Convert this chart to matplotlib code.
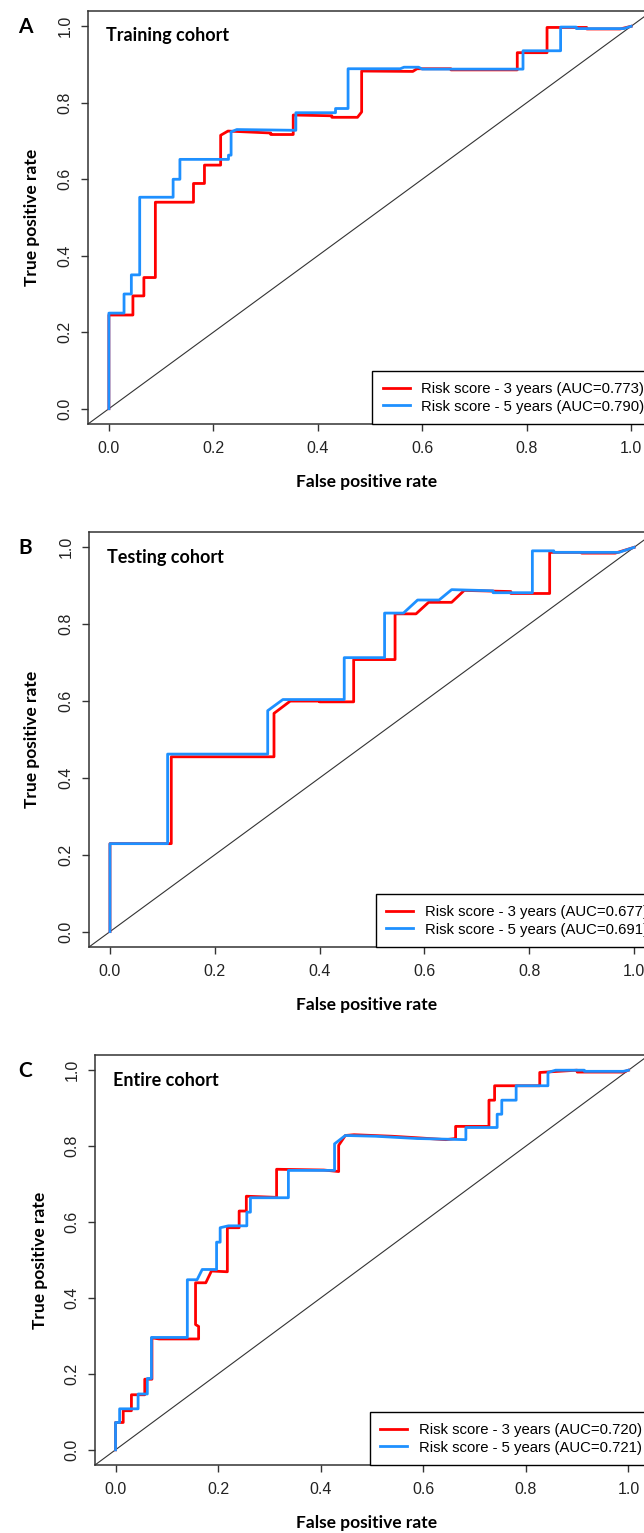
import numpy as np
import matplotlib
matplotlib.use('Agg')
import matplotlib.pyplot as plt

W, H = 644, 1533

# ROC vertices (false positive rate, true positive rate)
fpr_a3 = [0, 0, 0.046, 0.046, 0.067, 0.067, 0.089, 0.089, 0.162, 0.162, 0.183, 0.183, 0.214, 0.214,
          0.228, 0.31, 0.31, 0.353, 0.353, 0.427, 0.427, 0.476, 0.484, 0.484, 0.582, 0.59, 0.655,
          0.655, 0.782, 0.782, 0.839, 0.839, 0.915, 0.915, 0.979, 1.0]
tpr_a3 = [0, 0.245, 0.245, 0.295, 0.295, 0.343, 0.343, 0.540, 0.540, 0.589, 0.589, 0.637, 0.637, 0.715,
          0.726, 0.721, 0.717, 0.717, 0.768, 0.766, 0.762, 0.762, 0.776, 0.883, 0.882, 0.889, 0.889,
          0.886, 0.886, 0.931, 0.931, 0.997, 0.997, 0.993, 0.993, 1.0]
fpr_a5 = [0, 0, 0.029, 0.029, 0.043, 0.043, 0.059, 0.059, 0.123, 0.123, 0.136, 0.136, 0.229, 0.229,
          0.234, 0.234, 0.245, 0.358, 0.358, 0.434, 0.434, 0.458, 0.458, 0.558, 0.565, 0.593, 0.600,
          0.793, 0.793, 0.865, 0.865, 0.895, 0.895, 0.986, 1.0]
tpr_a5 = [0, 0.25, 0.25, 0.30, 0.30, 0.35, 0.35, 0.553, 0.553, 0.60, 0.60, 0.652, 0.652, 0.663,
          0.663, 0.724, 0.73, 0.728, 0.774, 0.774, 0.785, 0.785, 0.889, 0.889, 0.893, 0.893, 0.888,
          0.888, 0.936, 0.936, 0.998, 0.998, 0.994, 0.994, 1.0]

fpr_b3 = [0, 0, 0.117, 0.117, 0.313, 0.313, 0.344, 0.40, 0.40, 0.465, 0.465, 0.544, 0.544, 0.584,
          0.608, 0.652, 0.676, 0.765, 0.765, 0.839, 0.839, 0.90, 0.90, 0.964, 1.0]
tpr_b3 = [0, 0.229, 0.229, 0.455, 0.455, 0.568, 0.60, 0.60, 0.598, 0.598, 0.708, 0.708, 0.827, 0.827,
          0.857, 0.857, 0.888, 0.885, 0.88, 0.88, 0.987, 0.987, 0.985, 0.985, 1.0]
fpr_b5 = [0, 0, 0.110, 0.110, 0.301, 0.301, 0.33, 0.447, 0.447, 0.524, 0.524, 0.56, 0.587, 0.628,
          0.652, 0.731, 0.731, 0.806, 0.806, 0.847, 0.847, 0.971, 1.0]
tpr_b5 = [0, 0.229, 0.229, 0.462, 0.462, 0.575, 0.604, 0.604, 0.713, 0.713, 0.829, 0.829, 0.863, 0.863,
          0.89, 0.887, 0.882, 0.882, 0.991, 0.991, 0.987, 0.987, 1.0]

fpr_c3 = [0, 0, 0.015, 0.015, 0.031, 0.031, 0.057, 0.057, 0.071, 0.071, 0.085, 0.162, 0.162, 0.156,
          0.156, 0.176, 0.187, 0.218, 0.218, 0.241, 0.241, 0.255, 0.255, 0.314, 0.314, 0.406, 0.435,
          0.435, 0.448, 0.465, 0.539, 0.588, 0.644, 0.663, 0.663, 0.728, 0.728, 0.739, 0.739, 0.827,
          0.827, 0.90, 0.90, 0.99, 1.0]
tpr_c3 = [0, 0.072, 0.072, 0.103, 0.103, 0.145, 0.145, 0.186, 0.186, 0.295, 0.292, 0.292, 0.325, 0.33,
          0.44, 0.44, 0.471, 0.469, 0.585, 0.585, 0.629, 0.629, 0.668, 0.665, 0.739, 0.737, 0.733,
          0.802, 0.828, 0.83, 0.826, 0.822, 0.817, 0.82, 0.852, 0.852, 0.921, 0.921, 0.959, 0.959,
          0.994, 1.0, 0.995, 0.995, 1.0]
fpr_c5 = [0, 0, 0.008, 0.008, 0.044, 0.044, 0.062, 0.062, 0.070, 0.070, 0.140, 0.140, 0.159, 0.169,
          0.197, 0.197, 0.204, 0.204, 0.22, 0.256, 0.256, 0.263, 0.263, 0.337, 0.337, 0.427, 0.427,
          0.448, 0.507, 0.588, 0.683, 0.683, 0.744, 0.744, 0.753, 0.753, 0.781, 0.781, 0.843, 0.843,
          0.858, 0.914, 0.914, 0.99, 1.0]
tpr_c5 = [0, 0.072, 0.072, 0.108, 0.108, 0.147, 0.147, 0.188, 0.188, 0.296, 0.296, 0.448, 0.448, 0.475,
          0.475, 0.547, 0.547, 0.585, 0.59, 0.59, 0.626, 0.626, 0.664, 0.664, 0.736, 0.736, 0.806,
          0.828, 0.826, 0.82, 0.817, 0.849, 0.849, 0.884, 0.884, 0.921, 0.921, 0.959, 0.959, 0.994,
          1.0, 1.0, 0.997, 0.997, 1.0]

panels = ['A', 'B', 'C']
cohorts = ['Training cohort', 'Testing cohort', 'Entire cohort']
auc3 = ['0.773', '0.677', '0.720']
auc5 = ['0.790', '0.691', '0.721']
curves3 = [(fpr_a3, tpr_a3), (fpr_b3, tpr_b3), (fpr_c3, tpr_c3)]
curves5 = [(fpr_a5, tpr_a5), (fpr_b5, tpr_b5), (fpr_c5, tpr_c5)]

# axes boxes in pixels: left, top, right, bottom
boxes = [(88, 11, 652, 424), (89, 532, 655, 947), (95, 1055, 649, 1465)]
ylab_x = [32, 32, 40]

plt.rcParams['font.family'] = ['Liberation Sans', 'DejaVu Sans']
bold_font = ['Lato', 'DejaVu Sans']

fig = plt.figure(figsize=(W / 100, H / 100), dpi=100)

def fx(x):
    return x / W

def fy(y):
    return 1 - y / H

ticks = [0, 0.2, 0.4, 0.6, 0.8, 1.0]
for i in range(3):
    l, t, r, b = boxes[i]
    ax = fig.add_axes([fx(l), fy(b), (r - l) / W, (b - t) / H])
    ax.set_xlim(-0.04, 1.04)
    ax.set_ylim(-0.04, 1.04)
    ax.axline((0, 0), (1, 1), color='#333333', lw=0.8)
    ax.plot(*curves3[i], color='#FF0000', lw=2,
            label='Risk score - 3 years (AUC={})'.format(auc3[i]))
    ax.plot(*curves5[i], color='#1E90FF', lw=2,
            label='Risk score - 5 years (AUC={})'.format(auc5[i]))
    ax.set_xticks(ticks)
    ax.set_yticks(ticks)
    ax.set_xticklabels(['{:.1f}'.format(v) for v in ticks])
    ax.set_yticklabels(['{:.1f}'.format(v) for v in ticks], rotation=90, va='center')
    ax.tick_params(length=5, width=1, color='#333333', labelsize=11.5,
                   labelcolor='#222222')
    ax.tick_params(axis='x', pad=7)
    ax.tick_params(axis='y', pad=6)
    for s in ax.spines.values():
        s.set_color('#333333')
        s.set_linewidth(1.1)
    leg = ax.legend(loc='lower right', bbox_to_anchor=(1 + 3 / (r - l), 0),
                    borderaxespad=0, fancybox=False, framealpha=1,
                    edgecolor='black', fontsize=10.7, handlelength=1.8, handletextpad=0.8,
                    labelspacing=0.25, borderpad=0.7)
    leg.get_frame().set_linewidth(1)
    ax.text(fx(l + 18), fy(t + 25), cohorts[i], transform=fig.transFigure,
            fontsize=13, fontweight='bold', family=bold_font, va='center', ha='left')
    fig.text(fx(25), fy(t + 16), panels[i], fontsize=15, fontweight='bold',
             family=bold_font, ha='center', va='center')
    fig.text(fx(ylab_x[i]), fy((t + b) / 2), 'True positive rate', rotation=90,
             fontsize=12.5, fontweight='bold', family=bold_font, ha='center', va='center')
    fig.text(fx(367), fy(b + 58), 'False positive rate', fontsize=12.5,
             fontweight='bold', family=bold_font, ha='center', va='center')

fig.savefig('out.png', dpi=100)
